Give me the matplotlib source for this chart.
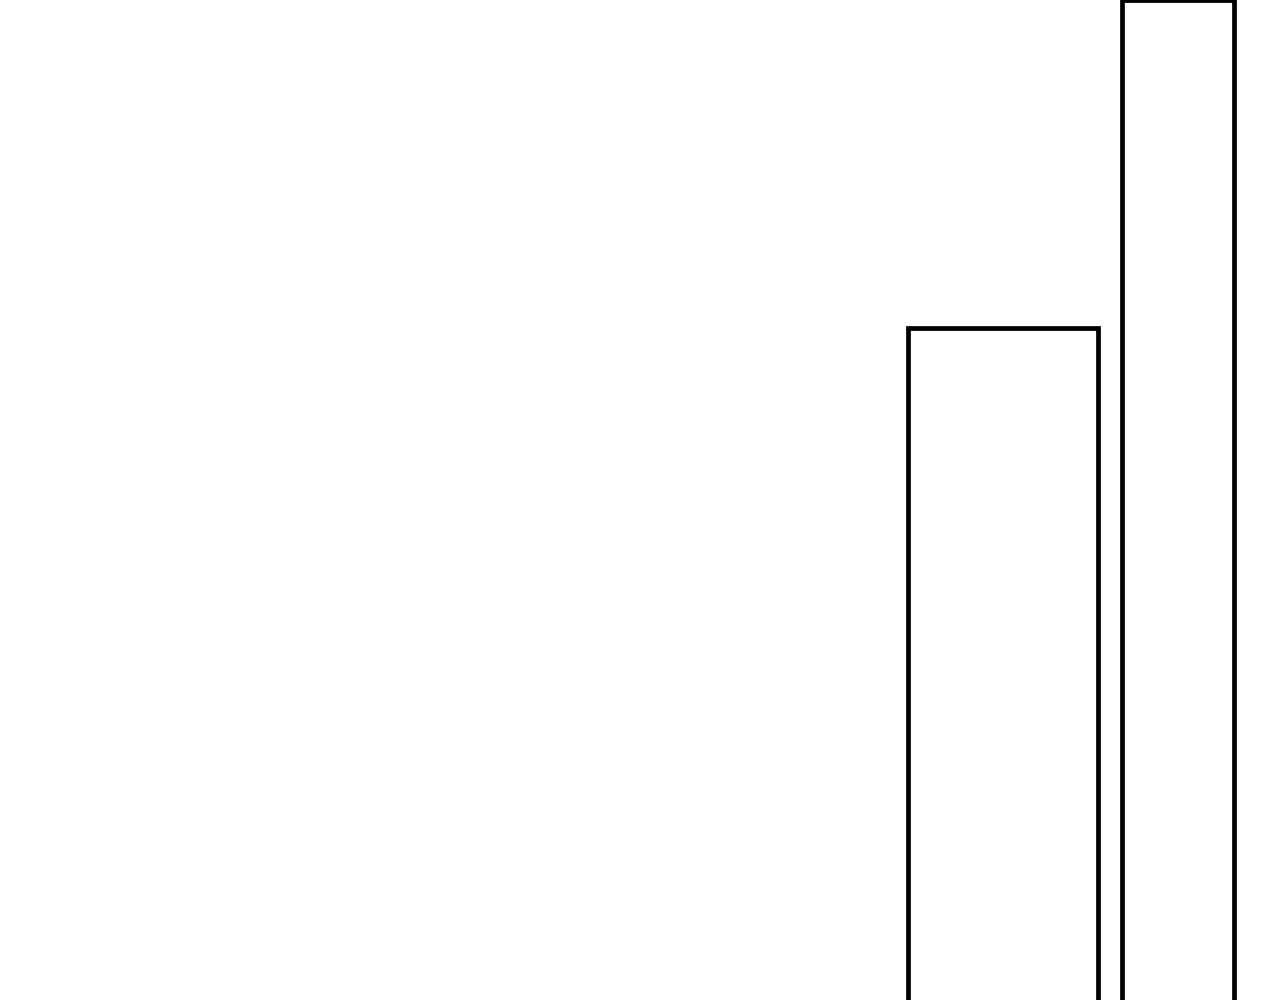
import numpy as np
import matplotlib
matplotlib.use("Agg")
import matplotlib.pyplot as plt

# bin edges (left, right) and bar heights
bin_left = [9.08, 11.22]
bin_right = [10.975, 12.34]
heights = [70.0, 100.0]

fig = plt.figure(figsize=(12.8, 10), dpi=100)
ax = fig.add_axes([0, 0, 1, 1])

anchos = np.array(bin_right) - np.array(bin_left)
ax.bar(bin_left, heights, width=anchos, align="edge",
       facecolor="white", edgecolor="black", linewidth=3.4)

# crop of the view: bottom of the bars falls outside the picture
ax.set_xlim(0, 12.8)
ax.set_ylim(8.54, 100.03)
ax.axis("off")

fig.savefig("out.png", dpi=100, facecolor="white")
